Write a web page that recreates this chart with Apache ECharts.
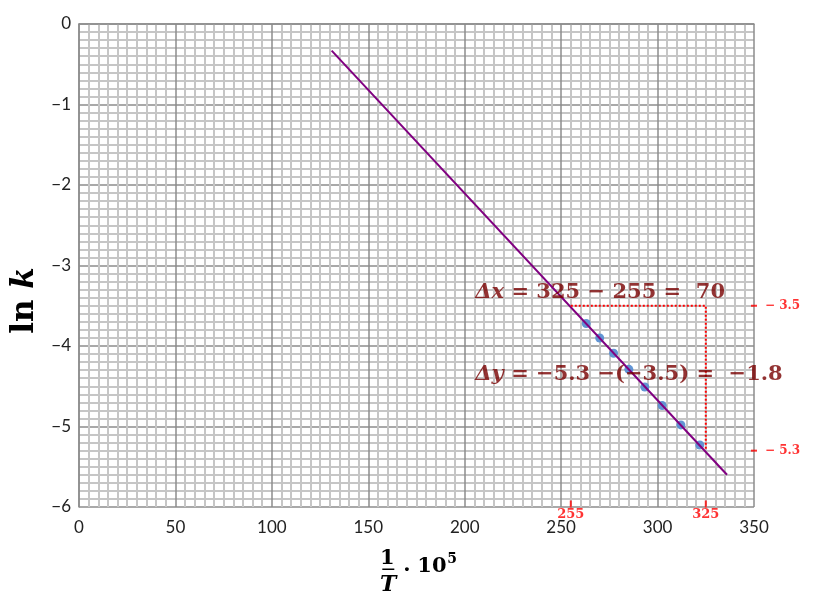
<!DOCTYPE html>
<html>
<head>
<meta charset="utf-8">
<script src="https://cdn.jsdelivr.net/npm/echarts@6/dist/echarts.min.js"></script>
<style>
html,body{margin:0;padding:0;background:#fff;}
#chart{width:815px;height:609px;}
</style>
</head>
<body>
<div id="chart"></div>
<script>
// ---- data ----
var xTicks = [0, 50, 100, 150, 200, 250, 300, 350];
var yTicks = [0, -1, -2, -3, -4, -5, -6];
var pointsX = [263.0, 270.0, 277.2, 285.1, 293.4, 302.4, 312.1, 321.9];
var pointsY = [-3.72, -3.90, -4.09, -4.29, -4.51, -4.74, -4.98, -5.23];
var fitX = [131, 336];
var fitY = [-0.33, -5.60];
var guideX = [255, 325, 325];
var guideY = [-3.5, -3.5, -5.3];
var refXValues = [255, 325];
var refXLabels = ['255', '325'];
var refYValues = [-3.5, -5.3];
var refYLabels = ['\u2212 3.5', '\u2212 5.3'];
var noteX = [205.5, 205.5];
var noteY = [-3.34, -4.36];
var noteVar = ['\u0394x', '\u0394y'];
var noteRest = [' = 325 \u2212 255 =  70', ' = \u22125.3 \u2212(\u22123.5) =  \u22121.8'];

var xMin = xTicks[0], xMax = xTicks[xTicks.length - 1];
var yMax = yTicks[0], yMin = yTicks[yTicks.length - 1];

function zip(a, b) { return a.map(function (v, i) { return [v, b[i]]; }); }

var chart = echarts.init(document.getElementById('chart'));
var majorColor = '#8c8c8c';
var minorColor = '#c6c6c6';
var red = '#ff0000';
var dark = '#780000';

chart.setOption({
  animation: false,
  grid: { left: 79, right: 61, top: 24, bottom: 102, containLabel: false, outerBoundsMode: 'none' },
  xAxis: {
    type: 'value', min: xMin, max: xMax, interval: 50,
    axisLine: { show: true, lineStyle: { color: majorColor, width: 1.5 } },
    axisTick: { show: false },
    minorTick: { show: false, splitNumber: 10 },
    splitLine: { show: true, lineStyle: { color: majorColor, width: 1.5 } },
    minorSplitLine: { show: true, lineStyle: { color: minorColor, width: 2 } },
    axisLabel: { margin: 12, color: '#222', fontFamily: 'Lato', fontSize: 17 }
  },
  yAxis: {
    type: 'value', min: yMin, max: yMax, interval: 1,
    axisLine: { show: true, lineStyle: { color: majorColor, width: 1.5 } },
    axisTick: { show: false },
    minorTick: { show: false, splitNumber: 10 },
    splitLine: { show: true, lineStyle: { color: majorColor, width: 1.5 } },
    minorSplitLine: { show: true, lineStyle: { color: minorColor, width: 2 } },
    axisLabel: {
      margin: 8, color: '#222', fontFamily: 'Lato', fontSize: 17,
      formatter: function (v) { return String(v).replace('-', '\u2212'); }
    },
    name: '{a|ln }{b|k}',
    nameLocation: 'middle', nameRotate: 90, nameGap: 37,
    nameTextStyle: {
      padding: [0, 70, 0, 0],
      rich: {
        a: { fontFamily: 'DejaVu Serif', fontWeight: 'bold', fontSize: 31, color: '#000' },
        b: { fontFamily: 'DejaVu Serif', fontWeight: 'bold', fontStyle: 'italic', fontSize: 31, color: '#000' }
      }
    }
  },
  series: [
    {
      name: 'points', type: 'scatter', z: 2,
      data: zip(pointsX, pointsY),
      symbol: 'circle', symbolSize: 9,
      itemStyle: { color: '#5a8fd2', opacity: 0.95 }
    },
    {
      name: 'fit', type: 'line', z: 3,
      data: zip(fitX, fitY),
      showSymbol: false, symbol: 'none',
      lineStyle: { color: '#800080', width: 2 }
    },
    {
      name: 'guide', type: 'line', z: 4,
      data: zip(guideX, guideY),
      showSymbol: false, symbol: 'none',
      lineStyle: { color: red, width: 2, type: [2, 2] }
    },
    {
      name: 'refX', type: 'scatter', z: 5, clip: false,
      data: refXValues.map(function (v) { return [v, yMin]; }),
      symbol: 'rect', symbolSize: [2, 7], symbolOffset: [0, -3],
      itemStyle: { color: red },
      label: {
        show: true, position: 'bottom', distance: 1,
        formatter: function (p) { return refXLabels[p.dataIndex]; },
        color: red, fontFamily: 'DejaVu Serif', fontWeight: 'bold', fontSize: 13
      }
    },
    {
      name: 'refY', type: 'scatter', z: 5, clip: false,
      data: refYValues.map(function (v) { return [xMax, v]; }),
      symbol: 'rect', symbolSize: [6, 2],
      itemStyle: { color: red },
      label: {
        show: true, position: 'right', distance: 8,
        formatter: function (p) { return refYLabels[p.dataIndex]; },
        color: red, fontFamily: 'DejaVu Serif', fontWeight: 'bold', fontSize: 12
      }
    },
    {
      name: 'notes', type: 'scatter', z: 6, clip: false,
      data: zip(noteX, noteY),
      symbolSize: 0,
      label: {
        show: true, position: 'right', distance: 0,
        formatter: function (p) {
          return '{v|' + noteVar[p.dataIndex] + '}{n|' + noteRest[p.dataIndex] + '}';
        },
        rich: {
          v: { fontFamily: 'DejaVu Serif', fontWeight: 'bold', fontStyle: 'italic', fontSize: 21, color: dark },
          n: { fontFamily: 'DejaVu Serif', fontWeight: 'bold', fontSize: 21, color: dark }
        }
      }
    }
  ],
  graphic: [
    {
      type: 'group', left: 380, top: 548,
      children: [
        { type: 'text', x: 9, y: 13, style: { text: '1', font: 'bold 21px "DejaVu Serif"', fill: '#000', align: 'center', verticalAlign: 'middle' } },
        { type: 'rect', shape: { x: 4, y: 23, width: 12, height: 1.5 }, style: { fill: '#000' } },
        { type: 'text', x: 10, y: 40, style: { text: 'T', font: 'italic bold 22px "DejaVu Serif"', fill: '#000', align: 'center', verticalAlign: 'middle' } },
        { type: 'text', x: 25, y: 25, style: { text: '\u00b7', font: 'bold 21px "DejaVu Serif"', fill: '#000', align: 'left', verticalAlign: 'middle' } },
        { type: 'text', x: 39, y: 21, style: { text: '10', font: 'bold 21px "DejaVu Serif"', fill: '#000', align: 'left', verticalAlign: 'middle' } },
        { type: 'text', x: 69, y: 14, style: { text: '5', font: 'bold 14px "DejaVu Serif"', fill: '#000', align: 'left', verticalAlign: 'middle' } }
      ]
    }
  ]
});
</script>
</body>
</html>
